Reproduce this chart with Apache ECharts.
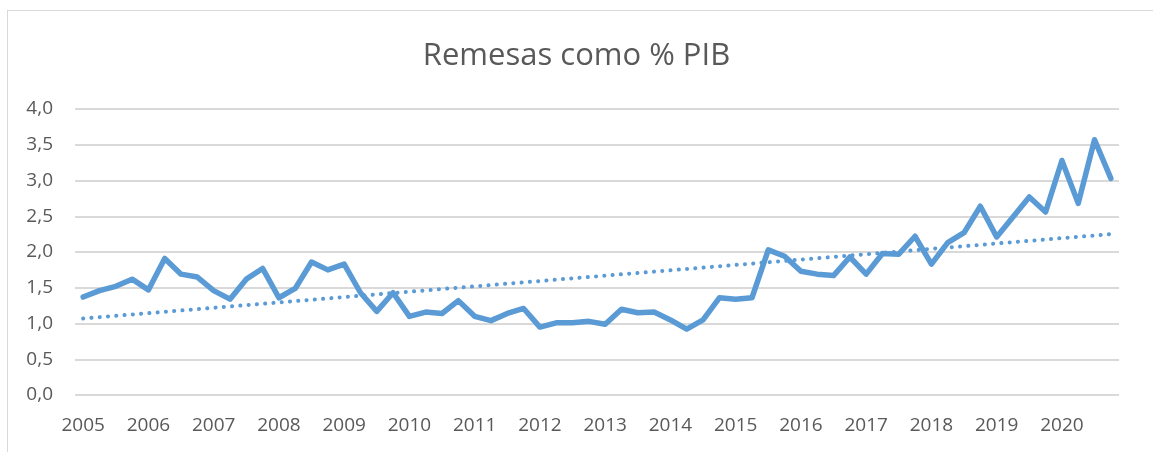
<!DOCTYPE html>
<html>
<head>
<meta charset="utf-8">
<script src="https://cdn.jsdelivr.net/npm/echarts@6/dist/echarts.min.js"></script>
<style>
  html, body { margin: 0; padding: 0; background: #fff; }
  #frame { position: absolute; left: 7px; top: 10px; width: 1160px; height: 460px; border: 1px solid #d9d9d9; }
  #chart { position: absolute; left: 0; top: 0; width: 1153px; height: 452px; }
</style>
</head>
<body>
<div id="frame"></div>
<div id="chart"></div>
<script>
// años / trimestres 2005-2020
var years = ['2005','2006','2007','2008','2009','2010','2011','2012',
             '2013','2014','2015','2016','2017','2018','2019','2020'];
var quarters = ['T1','T2','T3','T4'];

// remesas como % del PIB, trimestral
var remesas = [
    1.37, 1.46, 1.52, 1.62,   // 2005
    1.47, 1.91, 1.69, 1.65,   // 2006
    1.46, 1.34, 1.62, 1.77,   // 2007
    1.36, 1.49, 1.86, 1.75,   // 2008
    1.83, 1.43, 1.17, 1.43,   // 2009
    1.10, 1.16, 1.14, 1.32,   // 2010
    1.10, 1.04, 1.14, 1.21,   // 2011
    0.95, 1.01, 1.01, 1.03,   // 2012
    0.99, 1.20, 1.15, 1.16,   // 2013
    1.05, 0.92, 1.05, 1.36,   // 2014
    1.34, 1.36, 2.03, 1.94,   // 2015
    1.73, 1.69, 1.67, 1.93,   // 2016
    1.69, 1.98, 1.97, 2.22,   // 2017
    1.83, 2.13, 2.27, 2.64,   // 2018
    2.21, 2.49, 2.77, 2.56,   // 2019
    3.28, 2.68, 3.57, 3.03    // 2020
];

// extremos de la línea de tendencia (leídos)
var tendencia = [1.07, 2.25];

var yTicks = ['0,0','0,5','1,0','1,5','2,0','2,5','3,0','3,5','4,0'];

var categorias = [];
for (var i = 0; i < years.length; i++) {
    for (var j = 0; j < quarters.length; j++) {
        categorias.push(years[i] + ' ' + quarters[j]);
    }
}

var myChart = echarts.init(document.getElementById('chart'));

var option = {
    backgroundColor: 'transparent',
    animation: false,
    title: {
        text: 'Remesas como % PIB',
        left: 'center',
        top: 36,
        textStyle: {
            color: '#595959',
            fontFamily: 'Open Sans',
            fontWeight: 'normal',
            fontSize: 31
        }
    },
    grid: {
        left: 75,
        right: 34,
        top: 109,
        bottom: 57
    },
    xAxis: {
        type: 'category',
        boundaryGap: true,
        data: categorias,
        axisLine: { show: false },
        axisTick: { show: false },
        axisLabel: {
            interval: function (idx) { return idx % 4 === 0; },
            formatter: function (v) { return v.split(' ')[0]; },
            color: '#595959',
            fontFamily: 'Open Sans',
            fontSize: 19,
            margin: 21
        }
    },
    yAxis: {
        type: 'value',
        min: 0,
        max: 4,
        interval: 0.5,
        axisLine: { show: false },
        axisTick: { show: false },
        splitLine: {
            lineStyle: { color: '#d9d9d9', width: 2 }   // lineas de cuadricula
        },
        axisLabel: {
            formatter: function (v) { return yTicks[Math.round(v * 2)]; },
            color: '#595959',
            fontFamily: 'Open Sans',
            fontSize: 19,
            margin: 22
        }
    },
    series: [
        {
            name: 'Remesas',
            type: 'line',
            data: remesas,
            symbol: 'none',
            lineStyle: { color: '#5b9bd5', width: 5.5, join: 'round', cap: 'round' },
            z: 3
        },
        {
            name: 'Tendencia',
            type: 'line',
            data: [[categorias[0], tendencia[0]], [categorias[categorias.length - 1], tendencia[1]]],
            symbol: 'none',
            lineStyle: { color: '#5b9bd5', width: 4, type: [0.1, 8.2], cap: 'round' },
            z: 2
        }
    ]
};
myChart.setOption(option);
</script>
</body>
</html>
